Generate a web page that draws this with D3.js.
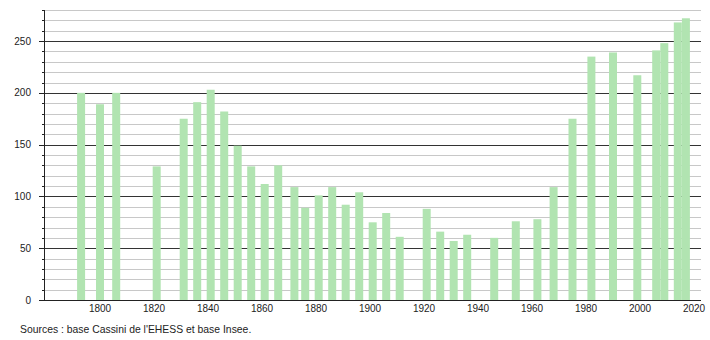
<!DOCTYPE html>
<html>
<head>
<meta charset="utf-8" />
<script src="https://d3js.org/d3.v7.min.js"></script>
<style>
  body { margin: 0; background: #fff; }
  text { font-family: "Liberation Sans", Arial, sans-serif; fill: #222; }
</style>
</head>
<body>
<svg id="chart" width="710" height="340"></svg>
<script>
// recensements
var years = [1793, 1800, 1806, 1821, 1831, 1836, 1841, 1846, 1851, 1856, 1861, 1866, 1872, 1876,
             1881, 1886, 1891, 1896, 1901, 1906, 1911, 1921, 1926, 1931, 1936, 1946, 1954, 1962,
             1968, 1975, 1982, 1990, 1999, 2006, 2009, 2014, 2017];
var population = [200, 189, 200, 129, 175, 191, 203, 182, 149, 129, 112, 130, 109, 89,
                  101, 109, 92, 104, 75, 84, 61, 88, 66, 57, 63, 60, 76, 78,
                  109, 175, 235, 239, 217, 241, 248, 268, 272];
var xTicks = [1800, 1820, 1840, 1860, 1880, 1900, 1920, 1940, 1960, 1980, 2000, 2020];
var yTicks = [0, 50, 100, 150, 200, 250];
var source = "Sources : base Cassini de l'EHESS et base Insee.";

var svg = d3.select("#chart");
var mLeft = 44, mRight = 701, mTop = 10, mBottom = 300;

var x = d3.scaleLinear().domain([1800, 2020]).range([100, 694]);
var y = d3.scaleLinear().domain([0, 280]).range([mBottom, mTop]);

// grille tous les 10
var grid = d3.range(10, 281, 10);
svg.append("g").selectAll("line")
  .data(grid)
  .enter().append("line")
  .attr("x1", mLeft).attr("x2", mRight)
  .attr("y1", function(d) { return Math.round(y(d)) + 0.5; })
  .attr("y2", function(d) { return Math.round(y(d)) + 0.5; })
  .attr("stroke", function(d) { return d % 50 == 0 ? "#333" : "#c8c8c8"; })
  .attr("stroke-width", 1);

// barres
svg.append("g").selectAll("rect")
  .data(years)
  .enter().append("rect")
  .attr("x", function(d) { return x(d) - 4; })
  .attr("width", 8)
  .attr("y", function(d, i) { return y(population[i]); })
  .attr("height", function(d, i) { return mBottom - y(population[i]); })
  .attr("fill", "#b1e4b1");

// axe y
svg.append("line")
  .attr("x1", mLeft + 0.5).attr("x2", mLeft + 0.5)
  .attr("y1", mTop).attr("y2", mBottom)
  .attr("stroke", "#222");
svg.append("g").selectAll("line")
  .data(grid)
  .enter().append("line")
  .attr("x1", function(d) { return d % 50 == 0 ? mLeft - 5 : mLeft - 2; })
  .attr("x2", mLeft)
  .attr("y1", function(d) { return Math.round(y(d)) + 0.5; })
  .attr("y2", function(d) { return Math.round(y(d)) + 0.5; })
  .attr("stroke", "#222");
svg.append("g").selectAll("text")
  .data(yTicks)
  .enter().append("text")
  .attr("x", 31)
  .attr("y", function(d) { return y(d) + 3.5; })
  .attr("text-anchor", "end")
  .attr("font-size", 10)
  .text(function(d) { return d; });

// axe x
svg.append("line")
  .attr("x1", 39).attr("x2", mRight)
  .attr("y1", mBottom + 0.5).attr("y2", mBottom + 0.5)
  .attr("stroke", "#222");
svg.append("g").selectAll("text")
  .data(xTicks)
  .enter().append("text")
  .attr("x", function(d) { return x(d); })
  .attr("y", 312)
  .attr("text-anchor", "middle")
  .attr("font-size", 10)
  .text(function(d) { return d; });

svg.append("text")
  .attr("x", 20).attr("y", 333)
  .attr("font-size", 10.4)
  .text(source);
</script>
</body>
</html>
